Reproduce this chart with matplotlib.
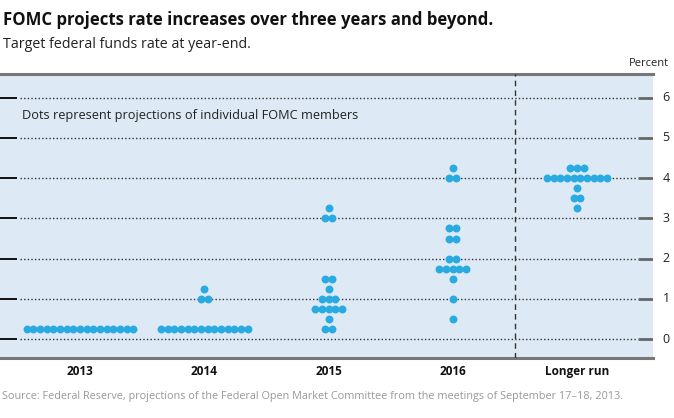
import matplotlib
matplotlib.use("Agg")
import matplotlib.pyplot as plt

plt.rcParams['font.family'] = ['Open Sans', 'DejaVu Sans']

categories = ["2013", "2014", "2015", "2016", "Longer run"]
# (rate, number of participants) per category
proj_2013 = [(0.25, 17)]
proj_2014 = [(0.25, 14), (1.0, 2), (1.25, 1)]
proj_2015 = [(0.25, 2), (0.5, 1), (0.75, 5), (1.0, 3), (1.25, 1), (1.5, 2), (3.0, 2), (3.25, 1)]
proj_2016 = [(0.5, 1), (1.0, 1), (1.5, 1), (1.75, 5), (2.0, 2), (2.5, 2), (2.75, 2), (4.0, 2), (4.25, 1)]
proj_lr = [(3.25, 1), (3.5, 2), (3.75, 1), (4.0, 10), (4.25, 3)]
projections = [proj_2013, proj_2014, proj_2015, proj_2016, proj_lr]
yticks = [0, 1, 2, 3, 4, 5, 6]

W, H = 674, 418
fig = plt.figure(figsize=(W / 100, H / 100), dpi=100)
ax = fig.add_axes([0, 1 - 358 / H, 652.7 / W, (358 - 74) / H])
ax.set_facecolor("#dde9f4")
ax.set_xlim(-0.644, 4.609)
ax.set_ylim(-0.47, 6.59)
for s in ax.spines.values():
    s.set_visible(False)
ax.set_xticks([])
ax.set_yticks([])

# borders
ax.axhline(6.59, color="#777777", lw=2.2, clip_on=False)
ax.axhline(-0.47, color="#777777", lw=2.2, clip_on=False)

# grid and ticks
for yv in yticks:
    ax.plot([0.031, 0.974], [yv, yv], transform=ax.get_yaxis_transform(),
            color="#333333", lw=1.0, ls=(0, (1, 1.6)))
    ax.plot([0.0, 0.026], [yv, yv], transform=ax.get_yaxis_transform(),
            color="#111111", lw=1.4, solid_capstyle="butt")
    ax.plot([0.977, 1.0], [yv, yv], transform=ax.get_yaxis_transform(),
            color="#666666", lw=2.0, solid_capstyle="butt")
    ax.text(666 / 652.7, yv, str(yv), transform=ax.get_yaxis_transform(),
            ha="center", va="center", fontsize=9, color="#222222", clip_on=False)

# dashed separator
ax.axvline(3.5, color="#333333", lw=1.0, ls=(0, (4, 3)))

# dots
spacing = 0.0537
for i, proj in enumerate(projections):
    xs, ys = [], []
    for rate, n in proj:
        for k in range(n):
            xs.append(i + (k - (n - 1) / 2) * spacing)
            ys.append(rate)
    ax.plot(xs, ys, "o", ms=5.7, color="#29abe2", mec="none", zorder=3)

# category labels
for i, c in enumerate(categories):
    ax.text(i, -0.47 - 13 / 40.2, c, ha="center", va="center", fontsize=8.5,
            fontweight="bold", color="#111111", clip_on=False)

ax.text(22 / 652.7, 5.55, "Dots represent projections of individual FOMC members",
        transform=ax.get_yaxis_transform(), ha="left", va="center",
        fontsize=9.2, color="#222222")

fig.text(3 / W, 1 - 20 / H, "FOMC projects rate increases over three years and beyond.",
         ha="left", va="center", fontsize=12.1, fontweight="bold", color="#111111")
fig.text(3 / W, 1 - 45 / H, "Target federal funds rate at year-end.",
         ha="left", va="center", fontsize=10.3, color="#222222")
fig.text(669 / W, 1 - 64 / H, "Percent", ha="right", va="center", fontsize=8,
         color="#222222")
fig.text(2 / W, 1 - 396 / H,
         "Source: Federal Reserve, projections of the Federal Open Market Committee from the meetings of September 17\u201318, 2013.",
         ha="left", va="center", fontsize=7.8, color="#999999")

fig.savefig("out.png", dpi=100)
